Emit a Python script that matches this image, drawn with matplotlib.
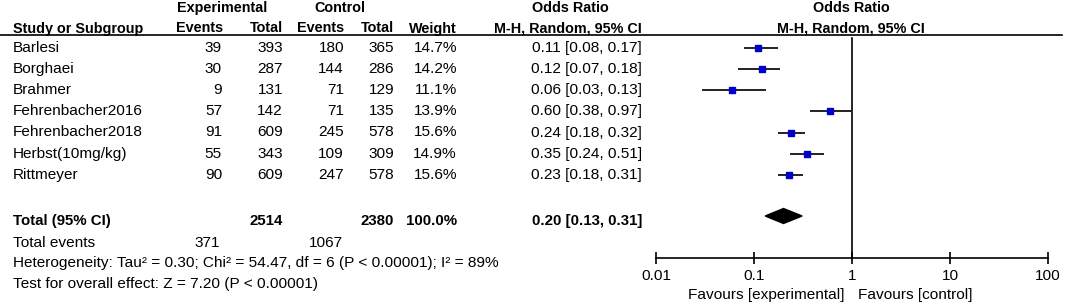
import numpy as np
import matplotlib.pyplot as plt
from matplotlib.ticker import FixedLocator, FixedFormatter, NullLocator

plt.rcParams['font.family'] = ['Liberation Sans', 'DejaVu Sans']

studies = ['Barlesi', 'Borghaei', 'Brahmer', 'Fehrenbacher2016',
           'Fehrenbacher2018', 'Herbst(10mg/kg)', 'Rittmeyer']
exp_events = [39, 30, 9, 57, 91, 55, 90]
exp_total = [393, 287, 131, 142, 609, 343, 609]
ctl_events = [180, 144, 71, 71, 245, 109, 247]
ctl_total = [365, 286, 129, 135, 578, 309, 578]
weights = [14.7, 14.2, 11.1, 13.9, 15.6, 14.9, 15.6]
odds = [0.11, 0.12, 0.06, 0.60, 0.24, 0.35, 0.23]
ci_low = [0.08, 0.07, 0.03, 0.38, 0.18, 0.24, 0.18]
ci_high = [0.17, 0.18, 0.13, 0.97, 0.32, 0.51, 0.31]

total_or, total_lo, total_hi = 0.20, 0.13, 0.31
total_exp, total_ctl = 2514, 2380
events_exp, events_ctl = 371, 1067
het_text = 'Heterogeneity: Tau\u00b2 = 0.30; Chi\u00b2 = 54.47, df = 6 (P < 0.00001); I\u00b2 = 89%'
test_text = 'Test for overall effect: Z = 7.20 (P < 0.00001)'
tick_vals = [0.01, 0.1, 1, 10, 100]
tick_labels = ['0.01', '0.1', '1', '10', '100']

W, H = 1072, 304
fig = plt.figure(figsize=(W / 100, H / 100), dpi=100)
ax = fig.add_axes([0, 0, 1, 1])
ax.set_xlim(0, W)
ax.set_ylim(H, 0)
ax.axis('off')

fs = 11.1
hfs = 10.4
row_y = [47.7 + i * 21.2 for i in range(len(studies))]

# header
ax.text(222, 8, 'Experimental', ha='center', va='center', fontsize=hfs, weight='bold')
ax.text(340, 8, 'Control', ha='center', va='center', fontsize=hfs, weight='bold')
ax.text(570, 8, 'Odds Ratio', ha='center', va='center', fontsize=hfs, weight='bold')
ax.text(851, 8, 'Odds Ratio', ha='center', va='center', fontsize=hfs, weight='bold')
hy = 28.5
ax.text(13, hy, 'Study or Subgroup', ha='left', va='center', fontsize=hfs, weight='bold')
ax.text(223, hy, 'Events', ha='right', va='center', fontsize=hfs, weight='bold')
ax.text(283, hy, 'Total', ha='right', va='center', fontsize=hfs, weight='bold')
ax.text(344, hy, 'Events', ha='right', va='center', fontsize=hfs, weight='bold')
ax.text(394, hy, 'Total', ha='right', va='center', fontsize=hfs, weight='bold')
ax.text(457, hy, 'Weight', ha='right', va='center', fontsize=hfs, weight='bold')
ax.text(642, hy, 'M-H, Random, 95% CI', ha='right', va='center', fontsize=hfs, weight='bold')
ax.text(851, hy, 'M-H, Random, 95% CI', ha='center', va='center', fontsize=hfs, weight='bold')
ax.plot([0, 1062], [35, 35], color='black', lw=1.2)

for i, y in enumerate(row_y):
    ax.text(13, y, studies[i], ha='left', va='center', fontsize=fs)
    ax.text(222, y, str(exp_events[i]), ha='right', va='center', fontsize=fs)
    ax.text(283, y, str(exp_total[i]), ha='right', va='center', fontsize=fs)
    ax.text(344, y, str(ctl_events[i]), ha='right', va='center', fontsize=fs)
    ax.text(394, y, str(ctl_total[i]), ha='right', va='center', fontsize=fs)
    ax.text(457, y, f'{weights[i]:.1f}%', ha='right', va='center', fontsize=fs)
    ax.text(642, y, f'{odds[i]:.2f} [{ci_low[i]:.2f}, {ci_high[i]:.2f}]',
            ha='right', va='center', fontsize=fs)

ty = 221
tfs = 10.8
ax.text(13, ty, 'Total (95% CI)', ha='left', va='center', fontsize=tfs, weight='bold')
ax.text(283, ty, str(total_exp), ha='right', va='center', fontsize=tfs, weight='bold')
ax.text(394, ty, str(total_ctl), ha='right', va='center', fontsize=tfs, weight='bold')
ax.text(457, ty, '100.0%', ha='right', va='center', fontsize=tfs, weight='bold')
ax.text(642, ty, f'{total_or:.2f} [{total_lo:.2f}, {total_hi:.2f}]',
        ha='right', va='center', fontsize=tfs, weight='bold')
ax.text(13, 243, 'Total events', ha='left', va='center', fontsize=fs)
ax.text(220, 243, str(events_exp), ha='right', va='center', fontsize=fs)
ax.text(343, 243, str(events_ctl), ha='right', va='center', fontsize=fs)
ax.text(13, 263, het_text, ha='left', va='center', fontsize=fs)
ax.text(13, 284, test_text, ha='left', va='center', fontsize=fs)

# forest plot axes
x0, x1 = 656, 1048
fax = fig.add_axes([x0 / W, 0, (x1 - x0) / W, 1])
fax.set_xscale('log')
fax.set_xlim(0.01, 100)
fax.set_ylim(H, 0)
fax.patch.set_alpha(0)
for s in ['top', 'left', 'right']:
    fax.spines[s].set_visible(False)
fax.spines['bottom'].set_position(('data', 258))
fax.spines['bottom'].set_linewidth(1.2)
fax.yaxis.set_visible(False)
fax.xaxis.set_major_locator(FixedLocator(tick_vals))
fax.xaxis.set_major_formatter(FixedFormatter(tick_labels))
fax.xaxis.set_minor_locator(NullLocator())
fax.tick_params(axis='x', direction='inout', length=9, width=1.2, labelsize=fs, pad=3.5)
fax.axvline(1, ymin=1 - 258 / H, ymax=1 - 38 / H, color='black', lw=1.2)

for i, y in enumerate(row_y):
    fax.plot([ci_low[i], ci_high[i]], [y, y], color='#222222', lw=1.4)
    fax.plot(odds[i], y, 's', color='#0000cc', mec='#0000cc',
             markersize=2 + weights[i] * 0.16)

dy = 7.5
fax.fill([total_lo, total_or, total_hi, total_or], [216, 216 - dy, 216, 216 + dy],
         color='black')

ax.text(845, 295, 'Favours [experimental]', ha='right', va='center', fontsize=fs)
ax.text(858, 295, 'Favours [control]', ha='left', va='center', fontsize=fs)

fig.savefig('out.png', dpi=100)
